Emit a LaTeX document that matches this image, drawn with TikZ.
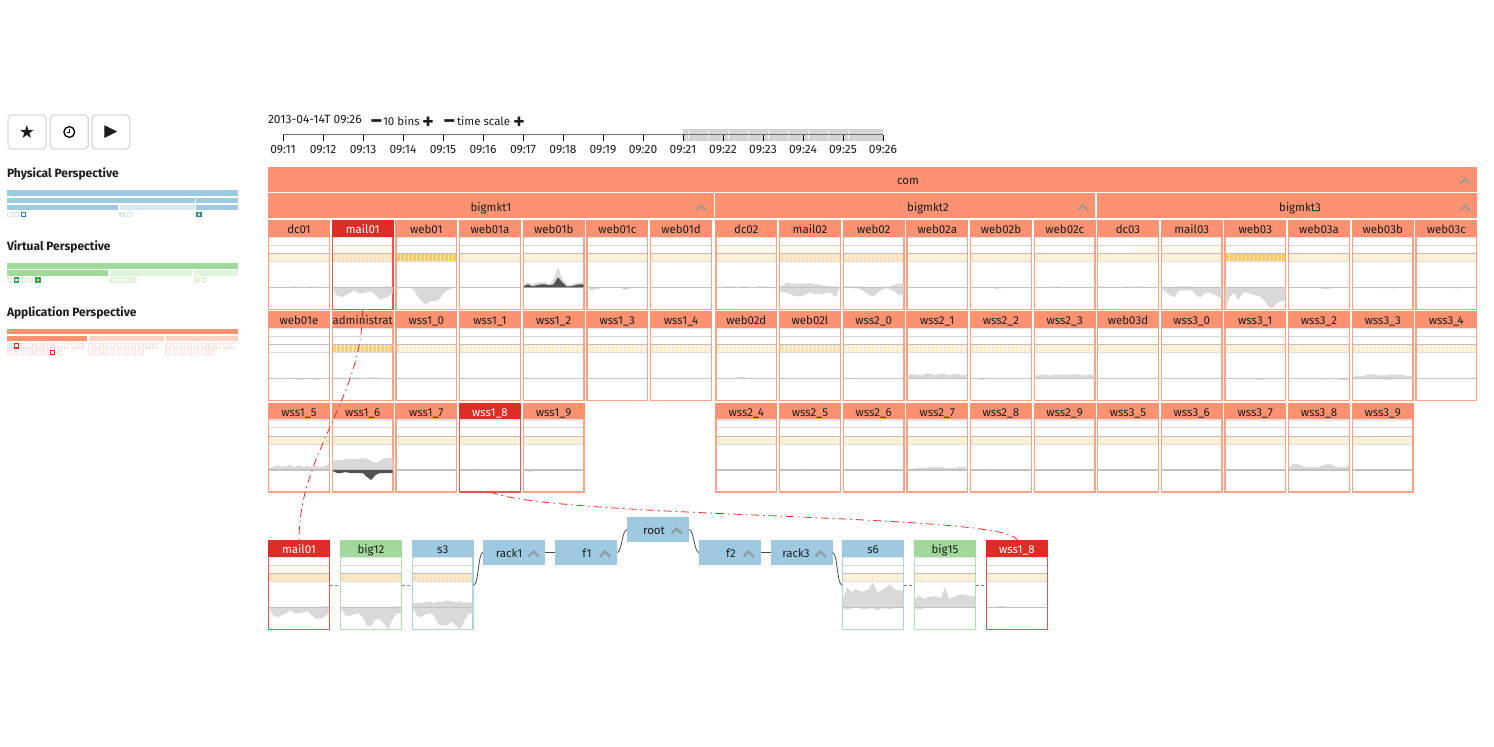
\documentclass[tikz,border=0pt]{standalone}
\usepackage{fontspec}
\setmainfont{Fira Sans}
\newfontfamily\symfont{DejaVu Sans}
\usetikzlibrary{positioning}
\definecolor{appTone}{HTML}{FC9272}
\definecolor{appPale}{HTML}{FED2C4}
\definecolor{selTone}{HTML}{DE2D26}
\definecolor{virtTone}{HTML}{A1D99B}
\definecolor{virtPale}{HTML}{E0F3DD}
\definecolor{virtDark}{HTML}{31A354}
\definecolor{physTone}{HTML}{9ECAE1}
\definecolor{physPale}{HTML}{D6E8F2}
\definecolor{physDark}{HTML}{3182BD}
\definecolor{heatNone}{HTML}{FFFFFF}
\definecolor{heatFaint}{HTML}{FFF7E8}
\definecolor{heatLow}{HTML}{FFEDD0}
\definecolor{heatMid}{HTML}{FFE2B5}
\definecolor{heatHigh}{HTML}{FFC861}
\definecolor{areaGrey}{HTML}{D9D9D9}
\definecolor{areaDark}{HTML}{525252}
\definecolor{inkDark}{HTML}{1C1C1C}
\definecolor{chevApp}{HTML}{AD9A8E}
\definecolor{chevPhys}{HTML}{8F9CA5}
\newcommand{\sparkarea}[4]{%
  \fill[#1] (#2,#3) foreach \v [count=\k from 0] in {#4} {-- (#2+\k*4.2857,{#3-(\v)})} -- (#2+60,#3) -- cycle;}
\newcommand{\hosttile}[9]{%
  \node[tilebody,edge#5,anchor=north west] (#1b) at (#2+.7,#3+.7) {};
  \fill[#6] (#2+1.4,#3+25) rectangle (#2+60.6,#3+33.3);
  \fill[#7] (#2+1.4,#3+33.3) rectangle (#2+60.6,#3+41.6);
  \foreach \k in {1,...,14} {\draw[white,opacity=.7,line width=.9pt] (#2+1+\k*4,#3+25) -- (#2+1+\k*4,#3+41.6);}
  \draw[bandline,black!10,line width=1.2pt] (#2+1.4,#3+17.3) -- (#2+60.6,#3+17.3);
  \draw[bandline] (#2+1.4,#3+25) -- (#2+60.6,#3+25);
  \draw[bandline,black!26] (#2+1.4,#3+33.3) -- (#2+60.6,#3+33.3);
  \draw[bandline,black!13,line width=1.2pt] (#2+1.4,#3+41.8) -- (#2+60.6,#3+41.8);
  \sparkarea{areaGrey}{#2+1}{#3+67.3}{#8}
  \sparkarea{areaGrey}{#2+1}{#3+67.3}{#9}
  \draw[midline] (#2+1.4,#3+67.3) -- (#2+60.6,#3+67.3);
  \node[tilehead,head#5,anchor=north west] (#1) at (#2,#3) {#4};
  \coordinate (#1l) at (#2,#3+45);
  \coordinate (#1r) at (#2+62,#3+45);
}
\newcommand{\chevup}[3]{\draw[#1,line width=2.2pt] (#2-5,#3+3) -- (#2,#3-2) -- (#2+5,#3+3);}
\begin{document}
\begin{tikzpicture}[x=1pt,y=-1pt,every node/.style={font=\fontsize{11.5}{13}\selectfont,text=inkDark,inner sep=0pt,outer sep=0pt}]
  \tikzstyle{tilebody}=[draw,fill=white,line width=1.4pt,minimum width=60.6pt,minimum height=88.6pt]
  \tikzstyle{tilehead}=[minimum width=62pt,minimum height=16.7pt,text height=10.5pt,text depth=0pt]
  \tikzstyle{headApp}=[fill=appTone]
  \tikzstyle{headSel}=[fill=selTone,text=white]
  \tikzstyle{headVirt}=[fill=virtTone]
  \tikzstyle{headPhys}=[fill=physTone]
  \tikzstyle{edgeApp}=[draw=appTone!85]
  \tikzstyle{edgeSel}=[draw=selTone!80]
  \tikzstyle{edgeVirt}=[draw=virtTone!85]
  \tikzstyle{edgePhys}=[draw=physTone!85]
  \tikzstyle{bandline}=[draw=black!16,line width=.8pt]
  \tikzstyle{midline}=[draw=black!24,line width=1.6pt]
  \tikzstyle{groupbar}=[fill=appTone,minimum height=25pt]
  \tikzstyle{treebox}=[fill=physTone,minimum width=62pt,minimum height=25pt]
  \tikzstyle{boxlabel}=[text height=10.5pt,text depth=0pt]
  \tikzstyle{barlabel}=[anchor=base]
  \tikzstyle{btnbox}=[draw=black!15,fill=white,line width=1.3pt,rounded corners=4pt,minimum width=38pt,minimum height=34pt]
  \tikzstyle{treelink}=[draw=black!70,line width=.8pt]
  \tikzstyle{sibling}=[draw=black!50,line width=.8pt,dash pattern=on 2.5pt off 2.5pt]
  \tikzstyle{trace}=[draw=selTone,line width=.8pt,dash pattern=on 8pt off 4pt on 1.5pt off 4pt]
  \tikzstyle{titletext}=[font=\fontsize{12}{14}\selectfont\bfseries,anchor=base west]
  \tikzstyle{scaletext}=[font=\fontsize{12}{14}\selectfont]
  \useasboundingbox (0,0) rectangle (1494,747);

  \node[btnbox] (btnstar) at (27,132) {\fontsize{18}{18}\selectfont\symfont ★};
  \node[btnbox] (btnclock) at (69.3,132) {};
  \node[btnbox] (btnplay) at (111,132) {\fontsize{17}{17}\selectfont\symfont ▶};
  \draw[black,line width=1.3pt] (btnclock.center) circle (5.4);
  \draw[black,line width=1pt] (69.5,128.5) -- (69.5,132.5) -- (66.5,132.5);

  \node[titletext] (physTitle) at (7,177) {Physical Perspective};
  \fill[physTone] (6.5,190) rectangle (238,195.6);
  \fill[physTone] (6.5,197.5) rectangle (195,203);
  \fill[physTone] (196,197.5) rectangle (238,203);
  \fill[physTone] (6.5,204.5) rectangle (118,210);
  \fill[physPale] (119.5,204.5) rectangle (194.5,210);
  \fill[physTone] (196,204.5) rectangle (238,210);
  \foreach \sx in {7.5,14.5,127.5} {\draw[physPale,fill=white,line width=1.2pt] (\sx,212.5) rectangle +(4,4);}
  \draw[physPale,fill=heatLow,line width=1.2pt] (120,212.5) rectangle +(4,4);
  \draw[physDark,fill=white,line width=1.2pt] (21.5,212.5) rectangle +(4,4);
  \draw[physDark,fill=heatHigh,line width=1.2pt] (197,212.5) rectangle +(4,4);

  \node[titletext] (virtTitle) at (7,250) {Virtual Perspective};
  \fill[virtTone] (6.5,263) rectangle (238,269);
  \fill[virtTone] (6.5,270) rectangle (108.3,275.7);
  \fill[virtPale] (110,270) rectangle (192,275.7);
  \fill[virtPale] (194,270) rectangle (238,275.7);
  \foreach \sx in {7.5,21.5,111,118,125,202} {\draw[virtPale,fill=white,line width=1.2pt] (\sx,278) rectangle +(4,4);}
  \foreach \sx in {28.5,132,195} {\draw[virtPale,fill=heatLow,line width=1.2pt] (\sx,278) rectangle +(4,4);}
  \draw[virtDark,fill=white,line width=1.2pt] (14.5,278) rectangle +(4,4);
  \draw[virtDark,fill=heatHigh,line width=1.2pt] (36,278) rectangle +(4,4);

  \node[titletext] (appTitle) at (7,316) {Application Perspective};
  \fill[appTone] (6.5,329) rectangle (238,334.3);
  \fill[appTone] (6.5,336) rectangle (87,341);
  \fill[appPale] (88.7,336) rectangle (164,341);
  \fill[appPale] (166,336) rectangle (238,341);
  \foreach \k in {0,...,10} {\draw[appPale!60,fill=white,line width=1.2pt] (7.3+\k*7.15,343.7) rectangle +(4.2,4.2);}
  \foreach \k in {0,...,7} {\draw[appPale!60,fill=white,line width=1.2pt] (7.3+\k*7.15,350.3) rectangle +(4.2,4.2);}
  \foreach \k in {0,...,9} {\draw[appPale!60,fill=white,line width=1.2pt] (88.7+\k*7.15,343.7) rectangle +(4.2,4.2);}
  \foreach \k in {0,...,7} {\draw[appPale!60,fill=white,line width=1.2pt] (88.7+\k*7.15,350.3) rectangle +(4.2,4.2);}
  \foreach \k in {0,...,9} {\draw[appPale!60,fill=white,line width=1.2pt] (166+\k*7.15,343.7) rectangle +(4.2,4.2);}
  \foreach \k in {0,...,6} {\draw[appPale!60,fill=white,line width=1.2pt] (166+\k*7.15,350.3) rectangle +(4.2,4.2);}
  \draw[selTone,fill=white,line width=1.2pt] (14.45,343.7) rectangle +(4.2,4.2);
  \draw[selTone,fill=appPale,line width=1.2pt] (50.2,350.3) rectangle +(4.2,4.2);

  \node[scaletext,anchor=west] (stamp) at (268,119.5) {2013-04-14T 09:26};
  \node (binsMinus) at (376.5,123) {\symfont\fontsize{16}{16}\selectfont ━};
  \node[anchor=west] (binsText) at (383,121) {10 bins};
  \node (binsPlus) at (428,121.5) {\symfont\fontsize{13}{13}\selectfont ✚};
  \node (scaleMinus) at (449.5,123) {\symfont\fontsize{16}{16}\selectfont ━};
  \node[anchor=west] (scaleText) at (457,121) {time scale};
  \node (scalePlus) at (519,121.5) {\symfont\fontsize{13}{13}\selectfont ✚};

  \fill[black!17] (683,129) rectangle (883,141);
  \foreach \k in {0,...,8} {\draw[white,line width=.9pt] (688+\k*20,131) -- (688+\k*20,139);}
  \draw[black!55,line width=1.5pt] (283,134.5) -- (883,134.5);
  \foreach \k [count=\m from 11] in {0,...,15} {
    \draw[black,line width=.7pt] (283+\k*40,134.5) -- (283+\k*40,141);
    \node[scaletext] (tick\m) at (283+\k*40,149.5) {09:\m};
  }

  \node[groupbar,minimum width=1209pt,anchor=north west] (com) at (268,166.7) {};
  \node[barlabel] (comt) at (908,184.5) {com};
  \node[groupbar,minimum width=446pt,anchor=north west] (bigmkt1) at (268,193.3) {};
  \node[barlabel] (bigmkt1t) at (491,211) {bigmkt1};
  \node[groupbar,minimum width=380pt,anchor=north west] (bigmkt2) at (715.3,193.3) {};
  \node[barlabel] (bigmkt2t) at (928,211) {bigmkt2};
  \node[groupbar,minimum width=380pt,anchor=north west] (bigmkt3) at (1097,193.3) {};
  \node[barlabel] (bigmkt3t) at (1300,211) {bigmkt3};
  \chevup{chevApp}{1465}{181}
  \chevup{chevApp}{701}{207.5}
  \chevup{chevApp}{1082.7}{207.5}
  \chevup{chevApp}{1465}{207.5}

  \hosttile{dc01}{268}{220}{dc01}{App}{heatNone}{heatLow}{0,0,0,0,0,.5,1,.5,0,.5,1,.5,0,0,0}{0}
  \hosttile{mail01}{331.7}{220}{mail01}{Sel}{heatFaint}{heatMid}{0,0,0,0,0,0,0,0,0,0,0,0,.5,1,.5}{-1,-8,-10,-8,-6,-3,-6,-6,-5,-4,-8,-12,-11,-9,-6}
  \hosttile{web01}{395.3}{220}{web01}{App}{heatNone}{heatHigh}{0}{-2,-1,0,0,-2,-9,-15,-17,-14,-14,-12,-6,-3,-1,0}
  \hosttile{web01a}{459}{220}{web01a}{App}{heatNone}{heatLow}{0}{0}
  \hosttile{web01b}{522.7}{220}{web01b}{App}{heatNone}{heatLow}{3,5,3,5,5,5,3,8,20,9,3,2,4,5,5}{0}
  \sparkarea{areaDark}{523.7}{287.3}{1,3,1,2,3,3,2,3,10,5,1,1,2,3,3}
  \hosttile{web01c}{586.3}{220}{web01c}{App}{heatNone}{heatLow}{0}{-1,-3,-2,-1,0,0,0,0,-1,-3,-1,0,0,0,0}
  \hosttile{web01d}{650}{220}{web01d}{App}{heatNone}{heatLow}{0}{0}
  \hosttile{dc02}{715.3}{220}{dc02}{App}{heatFaint}{heatLow}{0,0,1,1,1,0,1,1,0,0,1,1,1,0,0}{0}
  \hosttile{mail02}{779}{220}{mail02}{App}{heatFaint}{heatMid}{0,3,5,3,4,4,3,4,3,3,2,1,1,1,0}{-4,-5,-6,-8,-9,-9,-7,-5,-7,-6,-7,-5,-6,-10}
  \hosttile{web02}{842.7}{220}{web02}{App}{heatNone}{heatMid}{1,1,1,1,1,0,0,0,0,0,1,1,3,4,4}{0,0,-1,-1,-2,-5,-8,-9,-5,-2,-1,-2,-5,-8,-7}
  \hosttile{web02a}{906.3}{220}{web02a}{App}{heatNone}{heatLow}{0}{0}
  \hosttile{web02b}{970}{220}{web02b}{App}{heatNone}{heatLow}{0}{0,0,0,0,0,-.5,-1.5,-1,0,0}
  \hosttile{web02c}{1033.7}{220}{web02c}{App}{heatNone}{heatLow}{0,0,0,0,.5,1,.5,0,0}{0}
  \hosttile{dc03}{1097}{220}{dc03}{App}{heatNone}{heatLow}{1,.5,0,0,0,0,.5,1,.5,.5,1,.5,0,0,0}{0}
  \fill[heatFaint] (1135,245.5) rectangle (1158,252.9);
  \hosttile{mail03}{1160.7}{220}{mail03}{App}{heatFaint}{heatLow}{0,0,0,0,1,1,1,.5,0,0,0,0,0,0}{-2,-5,-8,-10,-3.5,-3,-3,-3,-8,-10,-6,-5,-7,-9,-11}
  \hosttile{web03}{1224.3}{220}{web03}{App}{heatNone}{heatHigh}{0}{-22,-10,-5,-13,-6,-5,-7,-8,-9,-13,-19,-21,-16,-14,-13}
  \hosttile{web03a}{1288}{220}{web03a}{App}{heatNone}{heatLow}{0}{0,0,0,0,0,0,0,-.5,-1.5,-1.5,-1,0,0}
  \hosttile{web03b}{1351.7}{220}{web03b}{App}{heatNone}{heatLow}{0}{0,0,0,0,0,0,0,-1,0,-1,-1,0,0}
  \hosttile{web03c}{1415.3}{220}{web03c}{App}{heatNone}{heatLow}{0}{-1,0,0,0,0,0,0,0,0,-1,-1,0,0}

  \hosttile{web01e}{268}{311}{web01e}{App}{heatNone}{heatNone}{.5,0,.5,0,0,.5,.5,0,.5,0,0,.5,0}{0,0,0,0,0,0,-1,-1.5,-1,0,-1,-1.5,-.5,0}
  \hosttile{admin}{331.7}{311}{administrat}{App}{heatNone}{heatHigh!85}{1,.5,1,0,.5,1,.5,0,.5,1,1,.5,0}{0}
  \hosttile{wss10}{395.3}{311}{wss1\_0}{App}{heatNone}{heatLow}{0}{0}
  \hosttile{wss11}{459}{311}{wss1\_1}{App}{heatNone}{heatLow}{0}{0}
  \hosttile{wss12}{522.7}{311}{wss1\_2}{App}{heatNone}{heatLow}{0}{0}
  \hosttile{wss13}{586.3}{311}{wss1\_3}{App}{heatNone}{heatLow}{0}{0}
  \hosttile{wss14}{650}{311}{wss1\_4}{App}{heatNone}{heatLow}{0}{0}
  \hosttile{web02d}{715.3}{311}{web02d}{App}{heatNone}{heatLow}{0,0,0,0,0,1,1.5,.5,0}{0}
  \hosttile{web02l}{779}{311}{web02l}{App}{heatNone}{heatMid}{0}{0}
  \hosttile{wss20}{842.7}{311}{wss2\_0}{App}{heatNone}{heatLow}{0}{0,-1,-.5,0}
  \hosttile{wss21}{906.3}{311}{wss2\_1}{App}{heatNone}{heatLow}{3,4,4,3,4,5,3,4,5,4,3,5,4,3,4}{-1,-.5,-1,-.5,-1,0,-1,-.5,-1,-.5,-1,0,-1,-1,-.5}
  \hosttile{wss22}{970}{311}{wss2\_2}{App}{heatNone}{heatLow}{0}{0,0,-1,-1.5,0}
  \hosttile{wss23}{1033.7}{311}{wss2\_3}{App}{heatNone}{heatLow}{3,3,4,3,3,4,3,4,3,4,4,3,3,4,3}{-.5}
  \hosttile{web03d}{1097}{311}{web03d}{App}{heatNone}{heatLow}{0}{0}
  \hosttile{wss30}{1160.7}{311}{wss3\_0}{App}{heatNone}{heatLow}{0}{0}
  \hosttile{wss31}{1224.3}{311}{wss3\_1}{App}{heatNone}{heatLow}{0}{0,0,0,0,0,0,0,-.5,-1.5,-1,0}
  \hosttile{wss32}{1288}{311}{wss3\_2}{App}{heatNone}{heatLow}{0}{0,0,0,0,0,0,0,0,-1,-1,0,-.5,-1.5,-1.5,-1}
  \hosttile{wss33}{1351.7}{311}{wss3\_3}{App}{heatNone}{heatLow}{1,3,2,3,4,4,3,3,3,4,3,4,3,2,3}{0,0,0,0,0,0,0,-1,-1.5,-1,0}
  \hosttile{wss34}{1415.3}{311}{wss3\_4}{App}{heatNone}{heatLow}{0}{0}

  \hosttile{wss15}{268}{402.7}{wss1\_5}{App}{heatNone}{heatLow}{2,3,5,3,4,5,3,5,3,4,3,4,3,4,6}{0}
  \hosttile{wss16}{331.7}{402.7}{wss1\_6}{App}{heatNone}{heatLow}{9,10,10,11,11,11,11,12,11,9,7,9,12,12,12}{0}
  \sparkarea{areaDark}{332.7}{470}{-1,-3,-3,-2,-3,-3,-3,-3,-7,-10,-5,-3,-3,-3,-3}
  \hosttile{wss17}{395.3}{402.7}{wss1\_7}{App}{heatNone}{heatLow}{0}{0}
  \hosttile{wss18}{459}{402.7}{wss1\_8}{Sel}{heatNone}{heatLow}{0,0,.5,1.5,1,0}{0}
  \hosttile{wss19}{522.7}{402.7}{wss1\_9}{App}{heatNone}{heatLow}{0}{-1,-1.5,-1.5,-.5,0}
  \hosttile{wss24}{715.3}{402.7}{wss2\_4}{App}{heatNone}{heatLow}{0,0,0,0,0,0,.5,1,.5,0}{0}
  \hosttile{wss25}{779}{402.7}{wss2\_5}{App}{heatNone}{heatLow}{0}{0,0,0,0,0,-1,-1,0}
  \hosttile{wss26}{842.7}{402.7}{wss2\_6}{App}{heatNone}{heatLow}{0}{0}
  \hosttile{wss27}{906.3}{402.7}{wss2\_7}{App}{heatNone}{heatLow}{1,1,2,2,2,3,3,3,3,2,2,2,3,3,2}{0}
  \hosttile{wss28}{970}{402.7}{wss2\_8}{App}{heatNone}{heatLow}{0}{0,0,0,0,-1,-1,0}
  \hosttile{wss29}{1033.7}{402.7}{wss2\_9}{App}{heatNone}{heatLow}{0,0,0,.5,1,.5,0}{0}
  \hosttile{wss35}{1097}{402.7}{wss3\_5}{App}{heatNone}{heatLow}{0}{0}
  \hosttile{wss36}{1160.7}{402.7}{wss3\_6}{App}{heatNone}{heatLow}{0}{0,0,0,0,0,0,0,0,0,0,0,0,-.5,-1,-1}
  \hosttile{wss37}{1224.3}{402.7}{wss3\_7}{App}{heatNone}{heatLow}{0}{0,0,0,0,0,0,0,0,0,0,0,0,0,-.5,-1}
  \hosttile{wss38}{1288}{402.7}{wss3\_8}{App}{heatNone}{heatLow}{3,6,6,4,3,3,3,3,5,6,5,3,3,3,5}{0}
  \hosttile{wss39}{1351.7}{402.7}{wss3\_9}{App}{heatNone}{heatLow}{0}{0}

  \hosttile{tmail01}{268}{540}{mail01}{Sel}{heatFaint}{heatMid}{0,0,0,0,0,0,0,0,0,0,0,0,.5,1,.5}{-1,-8,-10,-8,-6,-3,-6,-6,-5,-4,-8,-12,-11,-9,-6}
  \hosttile{tbig12}{340}{540}{big12}{Virt}{heatNone}{heatMid}{0,0,0,0,0,0,0,0,0,0,0,0,.5,1,.5}{-1,-8,-9,-7,-6,-9,-18,-19,-12,-12,-16,-22,-12,-6,-6}
  \hosttile{ts3}{411.7}{540}{s3}{Phys}{heatNone}{heatMid}{4,5,4,5,6,4,6,5,7,6,5,6,4,5,5}{-1,-8,-10,-7,-6,-8,-17,-18,-18,-14,-18,-22,-14,-6,-6}
  \hosttile{ts6}{842}{540}{s6}{Phys}{heatNone}{heatLow}{8,20,15,18,16,16,18,25,15,17,20,23,18,17,17}{-1,-2,-1,0,-1,-2,-1,-1,-3,-1,-1,-2,-1,0,-1}
  \hosttile{tbig15}{914}{540}{big15}{Virt}{heatNone}{heatLow}{8,12,8,10,11,11,9,20,8,10,12,13,12,11,11}{-1,-2,-1,0,0,0,0,0,0,0,0,0,0,0,0}
  \hosttile{twss18}{986}{540}{wss1\_8}{Sel}{heatNone}{heatLow}{0,0,.5,1.5,1,0}{0}

  \node[treebox] (rack1) at (514,552.5) {};
  \node[boxlabel] (rack1t) at (509,552.5) {rack1};
  \node[treebox] (f1) at (586,552.5) {};
  \node[boxlabel] (f1t) at (587,552.5) {f1};
  \node[treebox] (root) at (658,529.5) {};
  \node[boxlabel] (roott) at (654,529.5) {root};
  \node[treebox] (f2) at (730,552.5) {};
  \node[boxlabel] (f2t) at (731,552.5) {f2};
  \node[treebox] (rack3) at (801.5,552.5) {};
  \node[boxlabel] (rack3t) at (796,552.5) {rack3};
  \chevup{chevPhys}{533.5}{553.5}
  \chevup{chevPhys}{605}{553.5}
  \chevup{chevPhys}{676.5}{530.5}
  \chevup{chevPhys}{748.5}{553.5}
  \chevup{chevPhys}{820.5}{553.5}

  \draw[treelink] (rack1) -- (f1);
  \draw[treelink] (f2) -- (rack3);
  \draw[treelink] (ts3r) .. controls +(5,0) and +(-5,0) .. (rack1.west);
  \draw[treelink] (f1.east) .. controls +(5,0) and +(-5,0) .. (root.west);
  \draw[treelink] (root.east) .. controls +(5,0) and +(-5,0) .. (f2.west);
  \draw[treelink] (rack3.east) .. controls +(5,0) and +(-5,0) .. (ts6l);
  \draw[sibling] (tmail01r) -- (tbig12l);
  \draw[sibling] (tbig12r) -- (ts3l);
  \draw[sibling] (ts6r) -- (tbig15l);
  \draw[sibling] (tbig15r) -- (twss18l);
  \draw[trace] (mail01b.south) .. controls (362,400) and (299,452) .. (tmail01.north);
  \draw[trace] (wss18b.south) .. controls (560,519) and (1010,513) .. (twss18.north);
\end{tikzpicture}
\end{document}
